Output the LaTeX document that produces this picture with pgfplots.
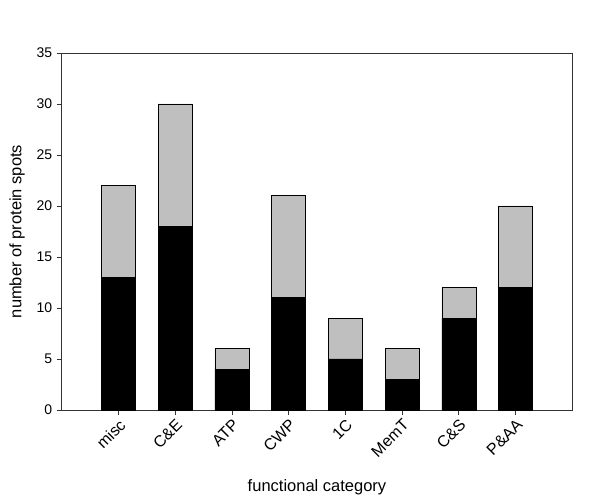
\documentclass[border=0pt]{standalone}
\usepackage{pgfplots}
\pgfplotsset{compat=1.18}
\usepackage{fontspec}
\setmainfont{Liberation Sans}
\begin{document}
\begin{tikzpicture}
\begin{axis}[
  scale only axis,
  width=510.6pt, height=357pt,
  ybar stacked,
  bar width=0.6,
  xmin=-1, xmax=8,
  ymin=0, ymax=35,
  ytick={0,5,...,35},
  xtick={0,...,7},
  xticklabels={misc,C\&E,ATP,CWP,1C,MemT,C\&S,P\&AA},
  tick align=outside,
  xtick pos=lower, ytick pos=left,
  major tick length=5pt,
  axis line style={black!80, line width=0.9pt},
  tick style={black!80, line width=0.8pt},
  /pgf/number format/assume math mode=true,
  yticklabel style={font=\fontsize{14}{16}\selectfont, xshift=-1pt},
  xticklabel style={font=\fontsize{16}{18}\selectfont, xshift=0pt, yshift=-3pt, rotate=45, anchor=north east, inner sep=0pt},
  label style={font=\fontsize{16.5}{19}\selectfont},
  xlabel={functional category},
  ylabel={number of protein spots},
  xlabel style={at={(axis description cs:0.5,-0.216)}, anchor=center},
  ylabel style={at={(axis description cs:-0.0875,0.5)}, anchor=center, rotate=0},
  clip=false,
]
\addplot[fill=black, draw=black, line width=0.6pt] coordinates {(0,13) (1,18) (2,4) (3,11) (4,5) (5,3) (6,9) (7,12)};
\addplot[fill=black!25, draw=black, line width=0.6pt] coordinates {(0,9) (1,12) (2,2) (3,10) (4,4) (5,3) (6,3) (7,8)};
\end{axis}
\pgfresetboundingbox
\path[use as bounding box] (current axis.south west) ++(-61.7pt,-89pt) rectangle ([shift={(27.7pt,53pt)}]current axis.north east);
\end{tikzpicture}
\end{document}
